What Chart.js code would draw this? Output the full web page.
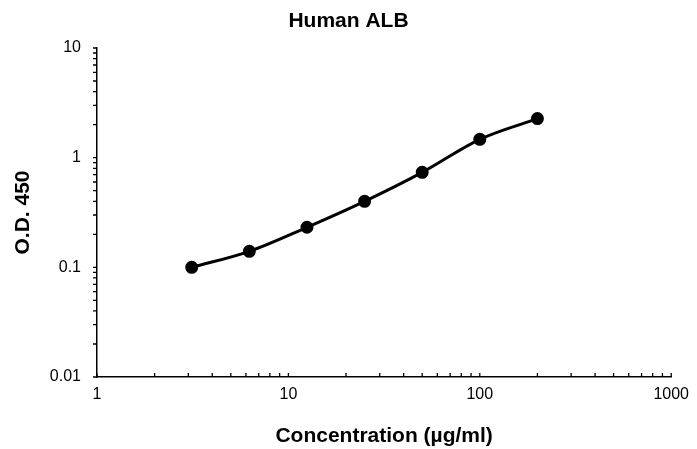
<!DOCTYPE html>
<html>
<head>
<meta charset="utf-8">
<script src="https://cdn.jsdelivr.net/npm/chart.js@4"></script>
<style>
  html, body { margin: 0; padding: 0; background: #fff; }
  #wrap { width: 697px; height: 449px; position: relative; }
</style>
</head>
<body>
<div id="wrap"><canvas id="albChart"></canvas></div>
<script>
(function(){
  // standard curve
  const concentrations = [3.125, 6.25, 12.5, 25, 50, 100, 200];
  const odValues = [0.100, 0.140, 0.232, 0.400, 0.735, 1.47, 2.27];
  const xTicks = [1, 10, 100, 1000];
  const yTicks = [0.01, 0.1, 1, 10];
  const chartTitle = 'Human ALB';

  const font = 'Arial, "Liberation Sans", sans-serif';

  // minor log tick marks (x ticks point up into the plot, y ticks point left)
  // plus the title, centred on the whole canvas like the original
  const logTicks = {
    id: 'logTicks',
    afterDraw(chart){
      const ctx = chart.ctx;
      const xs = chart.scales.x, ys = chart.scales.y;
      ctx.save();
      ctx.strokeStyle = '#000';
      ctx.lineWidth = 1.3;
      ctx.beginPath();
      for (let d = 1; d < 1000; d *= 10) {
        for (let m = 1; m <= 10; m++) {
          const px = xs.getPixelForValue(d * m);
          ctx.moveTo(px, xs.top);
          ctx.lineTo(px, xs.top - 4);
        }
      }
      for (let d = 0.01; d < 9; d *= 10) {
        for (let m = 1; m <= 10; m++) {
          const py = ys.getPixelForValue(d * m);
          ctx.moveTo(ys.right, py);
          ctx.lineTo(ys.right - 4, py);
        }
      }
      ctx.stroke();

      ctx.fillStyle = '#000';
      ctx.font = 'bold 21px ' + font;
      ctx.textAlign = 'center';
      ctx.textBaseline = 'middle';
      ctx.fillText(chartTitle, chart.width / 2, 21);
      ctx.restore();
    }
  };

  new Chart(document.getElementById('albChart'), {
    type: 'line',
    data: {
      datasets: [{
        data: concentrations.map((c, i) => ({ x: c, y: odValues[i] })),
        borderColor: '#000',
        backgroundColor: '#000',
        borderWidth: 3,
        pointRadius: 5,
        pointHoverRadius: 5,
        cubicInterpolationMode: 'monotone',
        fill: false
      }]
    },
    plugins: [logTicks],
    options: {
      responsive: true,
      maintainAspectRatio: false,
      animation: false,
      layout: { padding: { left: 0, right: 21, top: 48, bottom: 0 } },
      plugins: {
        legend: { display: false },
        tooltip: { enabled: false },
        title: { display: false }
      },
      scales: {
        x: {
          type: 'logarithmic',
          min: 1, max: 1000,
          afterBuildTicks: s => { s.ticks = xTicks.map(v => ({ value: v })); },
          afterFit: s => { s.height = 72; },
          grid: { display: false, drawTicks: false },
          border: { display: true, color: '#000', width: 1.5 },
          ticks: {
            color: '#000', padding: 8, maxRotation: 0,
            font: { family: font, size: 16 },
            callback: v => String(v)
          },
          title: {
            display: true,
            text: 'Concentration (µg/ml)',
            color: '#000',
            font: { family: font, size: 21, weight: 'bold' },
            padding: { top: 0, bottom: 0 }
          }
        },
        y: {
          type: 'logarithmic',
          min: 0.01, max: 10,
          afterBuildTicks: s => { s.ticks = yTicks.map(v => ({ value: v })); },
          afterFit: s => { s.width = 97; },
          grid: { display: false, drawTicks: false },
          border: { display: true, color: '#000', width: 1.5 },
          ticks: {
            color: '#000', padding: 16,
            font: { family: font, size: 16 },
            callback: v => String(v)
          },
          title: {
            display: true,
            text: 'O.D. 450',
            color: '#000',
            font: { family: font, size: 21, weight: 'bold' },
            padding: { top: 11, bottom: 0 }
          }
        }
      }
    }
  });
})();
</script>
</body>
</html>
